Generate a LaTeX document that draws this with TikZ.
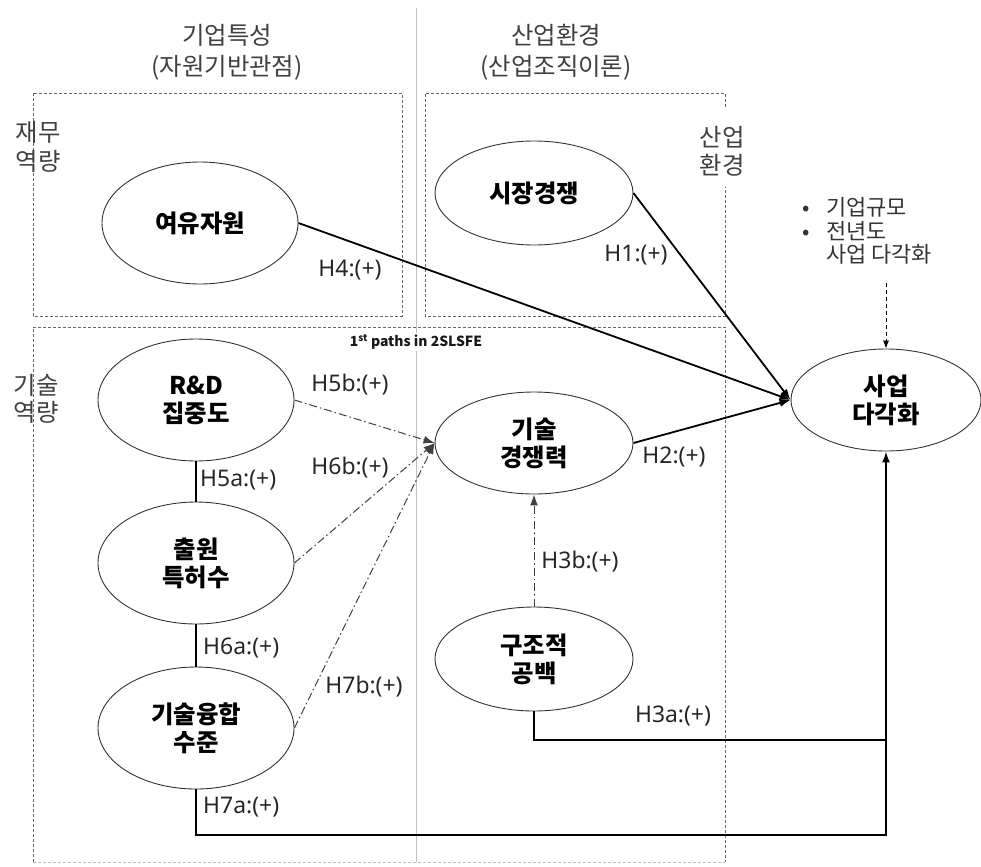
\documentclass[tikz,border=0pt]{standalone}
\usepackage{fontspec}
\setmainfont{Noto Sans CJK KR}
\newfontfamily\latinfont{Noto Sans}
\usetikzlibrary{arrows.meta,shapes.geometric}
\tikzset{
  ell/.style={ellipse, draw=black!80, line width=0.9bp, inner sep=0pt, align=center,
    font=\bfseries\fontsize{24.5}{28}\selectfont},
  hlab/.style={font=\latinfont\fontsize{23}{26}\selectfont, text=black!85, inner sep=0pt},
  kor/.style={font=\fontsize{24.5}{29}\selectfont, text=black!75, align=center, inner sep=0pt},
  boxline/.style={draw=black!60, line width=0.7bp, dash pattern=on 3bp off 2bp},
  solidarr/.style={line width=1.8bp, -{Latex[length=11bp,width=8bp]}},
  dasharr/.style={line width=1bp, draw=black!75, dash pattern=on 8bp off 3bp on 1.5bp off 3bp,
    -{Latex[length=11bp,width=8bp]}},
  ctrlarr/.style={line width=0.8bp, dash pattern=on 4bp off 3bp, -{Latex[length=8bp,width=6bp]}},
  linkline/.style={line width=1.6bp}
}
\begin{document}
\begin{tikzpicture}[x=1bp,y=-1bp]
\useasboundingbox (0,0) rectangle (981,867);
% gray divider
\draw[black!25, line width=0.8bp] (416,8) -- (416,862);
% titles
\node[kor, font=\fontsize{24.5}{31}\selectfont] (t1) at (227,52) {기업특성\\(자원기반관점)};
\node[kor, font=\fontsize{24.5}{31}\selectfont] (t2) at (556,52) {산업환경\\(산업조직이론)};
% boxes
\draw[boxline] (33,93) rectangle (402,316);
\draw[boxline] (725,107) -- (725,93) -- (425,93) -- (425,316) -- (725,316) -- (725,187);
\draw[boxline] (33,862) -- (33,327) -- (725,327) -- (725,862);
\draw[boxline, draw=black!25] (33,862) -- (725,862);
% side labels
\node[kor, font=\fontsize{24.5}{29}\selectfont] (s1) at (38,147) {재무\\역량};
\node[kor, font=\fontsize{24.5}{28}\selectfont] (s2) at (722,151) {산업\\환경};
\node[kor, font=\fontsize{24.5}{27}\selectfont] (s3) at (36,399) {기술\\역량};
\node[fill=white, inner sep=1bp, font=\bfseries\fontsize{14}{16}\selectfont, text=black!90]
  (p1) at (416,342) {1\textsuperscript{st} paths in 2SLSFE};
% ellipses
\node[ell, minimum width=196bp, minimum height=122bp] (yy) at (200,223) {여유자원};
\node[ell, minimum width=198bp, minimum height=104bp] (sj) at (534,193) {시장경쟁};
\node[ell, minimum width=196bp, minimum height=122bp] (rd) at (196,400) {R\&D\\집중도};
\node[ell, minimum width=196bp, minimum height=122bp] (cw) at (196,563) {출원\\특허수};
\node[ell, minimum width=196bp, minimum height=122bp] (gy) at (196,728) {기술융합\\수준};
\node[ell, minimum width=198bp, minimum height=102bp] (gj) at (534,443) {기술\\경쟁력};
\node[ell, minimum width=198bp, minimum height=104bp] (gb) at (534,659) {구조적\\공백};
\node[ell, minimum width=190bp, minimum height=102bp] (dv) at (886,400) {사업\\다각화};
% control variables
\node[anchor=west, align=left, inner sep=0pt, font=\fontsize{22}{23.5}\selectfont, text=black!80]
  (ctl) at (800,231) {\makebox[26bp][l]{\hspace{2bp}•}기업규모\\\makebox[26bp][l]{\hspace{2bp}•}전년도\\\makebox[26bp][l]{}사업 다각화};
\coordinate (ctlend) at (886,283);
\draw[ctrlarr] (ctlend) -- (dv.north);
% coordinates for elbow connectors
\coordinate (b1) at (886,835);
\coordinate (b2) at (886,740);
% main paths
\draw[solidarr] (yy.east) -- (dv.west);
\draw[solidarr] (sj.east) -- (dv.west);
\draw[solidarr] (gj.east) -- (dv.west);
\draw[dasharr] (rd.east) -- (gj.west);
\draw[dasharr] (cw.east) -- (gj.west);
\draw[dasharr] (gy.east) -- (gj.west);
\draw[dasharr] (gb.north) -- (gj.south);
\draw[linkline] (rd.south) -- (cw.north);
\draw[linkline] (cw.south) -- (gy.north);
\draw[linkline] (gb.south) |- (b2);
\draw[solidarr] (gy.south) |- (b1) -- (dv.south);
% hypothesis labels
\node[hlab] (h4) at (350,270) {H4:(+)};
\node[hlab] (h1) at (636,255) {H1:(+)};
\node[hlab] (h2) at (674,457) {H2:(+)};
\node[hlab] (h3b) at (580,562) {H3b:(+)};
\node[hlab] (h3a) at (673,716) {H3a:(+)};
\node[hlab] (h5b) at (350,385) {H5b:(+)};
\node[hlab] (h6b) at (350,468) {H6b:(+)};
\node[hlab, anchor=west] (h5a) at (200,480) {H5a:(+)};
\node[hlab, anchor=west] (h6a) at (203,648) {H6a:(+)};
\node[hlab] (h7b) at (364,687) {H7b:(+)};
\node[hlab, anchor=west] (h7a) at (203,807) {H7a:(+)};
\end{tikzpicture}
\end{document}
